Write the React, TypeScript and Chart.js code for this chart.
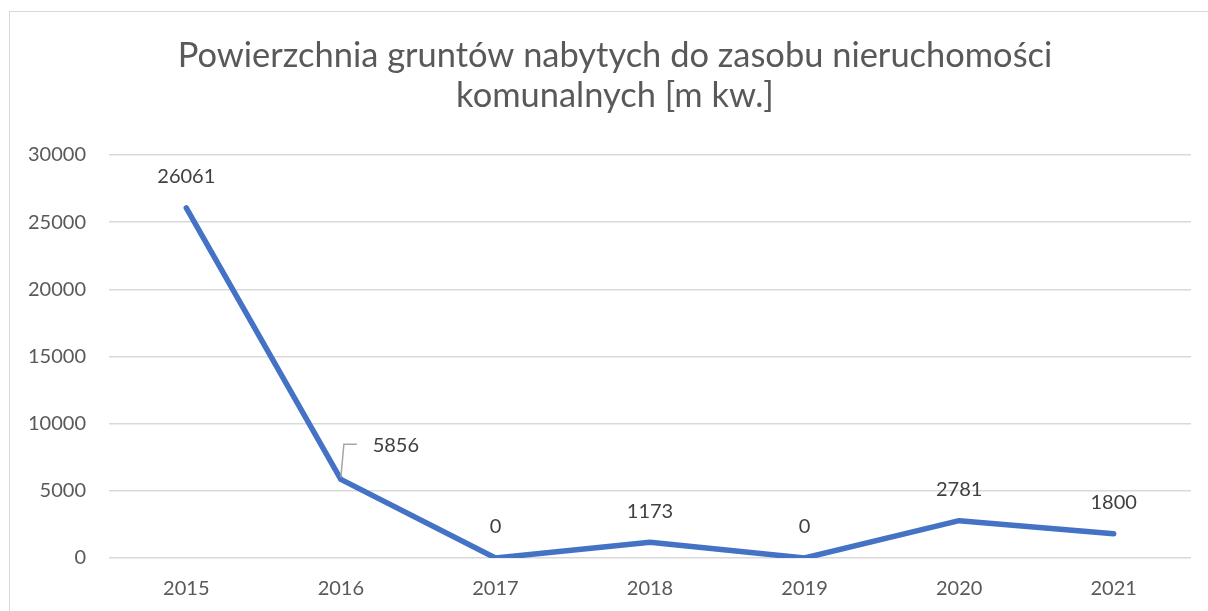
import React, { useEffect, useRef } from "react";
import { Chart, registerables } from "chart.js";

Chart.register(...registerables);

const categories = ["2015", "2016", "2017", "2018", "2019", "2020", "2021"];
const values = [26061, 5856, 0, 1173, 0, 2781, 1800];
const yTickValues = [0, 5000, 10000, 15000, 20000, 25000, 30000];
const titleLines = [
  "Powierzchnia gruntów nabytych do zasobu nieruchomości",
  "komunalnych [m kw.]",
];

const FONT = "Lato, 'Open Sans', sans-serif";
const TEXT = "#595959";
const GRID = "#d9d9d9";
const LINE = "#4472C4";

const framePlugin = {
  id: "frame",
  beforeDraw(chart: any) {
    const ctx = chart.ctx;
    ctx.save();
    ctx.fillStyle = "#ffffff";
    ctx.fillRect(0, 0, chart.width, chart.height);
    ctx.strokeStyle = GRID;
    ctx.lineWidth = 1;
    ctx.strokeRect(9.5, 11.5, chart.width + 20, chart.height + 20);
    ctx.restore();
  },
  afterDraw(chart: any) {
    const ctx = chart.ctx;
    ctx.save();
    ctx.fillStyle = TEXT;
    ctx.textAlign = "center";
    ctx.textBaseline = "alphabetic";
    ctx.font = `36px ${FONT}`;
    const w = ctx.measureText(titleLines[0]).width;
    const size = (36 * 875) / w;
    ctx.font = `${size}px ${FONT}`;
    ctx.fillText(titleLines[0], 615, 67);
    ctx.fillText(titleLines[1], 615, 107);
    ctx.restore();
  },
};

const labelPlugin = {
  id: "pointLabels",
  afterDatasetsDraw(chart: any) {
    const ctx = chart.ctx;
    const meta = chart.getDatasetMeta(0);
    ctx.save();
    ctx.font = `20px ${FONT}`;
    ctx.fillStyle = "#404040";
    ctx.textAlign = "center";
    ctx.textBaseline = "middle";
    meta.data.forEach((pt: any, i: number) => {
      const text = String(values[i]);
      if (i === 1) {
        ctx.strokeStyle = "#a6a6a6";
        ctx.lineWidth = 1.5;
        ctx.beginPath();
        ctx.moveTo(pt.x, pt.y - 2);
        ctx.lineTo(pt.x + 3, pt.y - 35);
        ctx.lineTo(pt.x + 16, pt.y - 35);
        ctx.stroke();
        ctx.fillText(text, pt.x + 55, pt.y - 34);
      } else {
        ctx.fillText(text, pt.x, pt.y - 31);
      }
    });
    ctx.restore();
  },
};

export default function App() {
  const ref = useRef<HTMLCanvasElement | null>(null);
  useEffect(() => {
    if (!ref.current) return;
    const chart = new Chart(ref.current, {
      type: "line",
      data: {
        labels: categories,
        datasets: [
          {
            data: values,
            borderColor: LINE,
            backgroundColor: LINE,
            borderWidth: 5.5,
            pointRadius: 0,
            borderCapStyle: "round",
            borderJoinStyle: "round",
            tension: 0,
          },
        ],
      },
      options: {
        animation: false,
        responsive: false,
        maintainAspectRatio: false,
        layout: { padding: { top: 155, left: 0, right: 17, bottom: 0 } },
        plugins: {
          legend: { display: false },
          title: { display: false },
          tooltip: { enabled: false },
        },
        scales: {
          x: {
            offset: true,
            grid: { display: false, drawTicks: false },
            border: { display: false },
            ticks: {
              color: TEXT,
              font: { family: FONT, size: 20 },
              padding: 19,
              maxRotation: 0,
            },
            afterFit: (s: any) => {
              s.height = 53;
            },
          },
          y: {
            min: 0,
            max: 30000,
            afterBuildTicks: (s: any) => {
              s.ticks = yTickValues.map((v) => ({ value: v }));
            },
            grid: { color: GRID, lineWidth: 1.5, drawTicks: false },
            border: { display: false },
            ticks: {
              color: TEXT,
              font: { family: FONT, size: 20 },
              padding: 23,
              callback: (v: any) => String(v),
            },
            afterFit: (s: any) => {
              s.width = 109;
            },
          },
        },
      },
      plugins: [framePlugin, labelPlugin],
    });
    return () => chart.destroy();
  }, []);
  return (
    <div style={{ position: "absolute", left: 0, top: 0, width: 1208, height: 611 }}>
      <canvas ref={ref} width={1208} height={611} style={{ display: "block" }} />
    </div>
  );
}
